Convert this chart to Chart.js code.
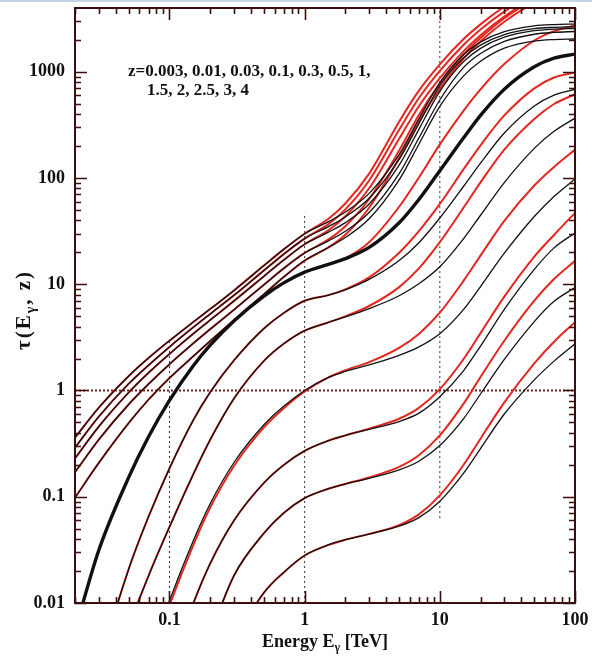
<!DOCTYPE html>
<html lang="en">
<head>
<meta charset="UTF-8">
<title>Optical depth vs energy</title>
<script src="https://cdn.jsdelivr.net/npm/chart.js@4"></script>
<style>
  html, body { margin: 0; padding: 0; background: #fff; }
  .wrap { position: relative; width: 592px; height: 657px; }
  .edge { position: absolute; left: 0; top: 0; width: 592px; height: 2px; background: #c3d4e6; }
  canvas { display: block; }
</style>
</head>
<body>
<div class="wrap">
  <canvas id="tau" width="592" height="657"></canvas>
  <div class="edge"></div>
</div>
<script>
// energy grid in TeV, shared by all curves
const energy = [0.02, 0.03, 0.05, 0.07, 0.1, 0.15, 0.2, 0.3, 0.5, 0.7, 1, 1.5, 2, 3, 5, 7, 10, 15, 20, 30, 50, 70, 100];

const redshifts = ['0.003', '0.01', '0.03', '0.1', '0.3', '0.5', '1', '1.5', '2', '2.5', '3', '4'];

// optical depth: black = one EBL model, red = the other
const black_z0003 = [1e-7, 5e-7, 3e-6, 1e-5, 1e-4, 5e-4, 0.0014, 0.0043, 0.0125, 0.0194, 0.028, 0.0352, 0.0394, 0.0446, 0.0528, 0.0636, 0.0908, 0.167, 0.284, 0.601, 1.26, 1.89, 2.75];
const red_z0003   = [1e-7, 5e-7, 3e-6, 1e-5, 1e-4, 5e-4, 0.0014, 0.0043, 0.0125, 0.0194, 0.028, 0.0352, 0.0394, 0.0447, 0.054, 0.0682, 0.103, 0.2, 0.352, 0.774, 1.8, 2.88, 4.4];

const black_z001 = [3e-7, 1.6e-6, 1.6e-5, 6e-5, 3e-4, 0.00166, 0.00494, 0.0181, 0.0454, 0.0703, 0.097, 0.119, 0.132, 0.149, 0.179, 0.216, 0.303, 0.544, 0.927, 1.96, 4.45, 6.9, 9.3];
const red_z001   = [3e-7, 1.6e-6, 1.6e-5, 6e-5, 3e-4, 0.00166, 0.00494, 0.0181, 0.0454, 0.0703, 0.097, 0.119, 0.132, 0.152, 0.191, 0.246, 0.378, 0.752, 1.34, 2.94, 7.0, 11.2, 16.6];

const black_z003 = [5e-6, 2e-5, 1.6e-4, 6e-4, 0.0023, 0.0099, 0.0235, 0.0597, 0.135, 0.199, 0.27, 0.337, 0.378, 0.43, 0.51, 0.612, 0.875, 1.54, 2.62, 5.8, 13.8, 22, 30.4];
const red_z003   = [5e-6, 2e-5, 1.6e-4, 6e-4, 0.0023, 0.0099, 0.0235, 0.0597, 0.135, 0.199, 0.27, 0.337, 0.378, 0.4375, 0.542, 0.686, 1.03, 1.98, 3.47, 7.64, 18.2, 29.1, 47];

const black_z01 = [2.5e-5, 1e-4, 7.6e-4, 0.0029, 0.0105, 0.0386, 0.086, 0.21, 0.476, 0.71, 1.0, 1.33, 1.51, 1.74, 2.14, 2.57, 3.42, 5.8, 9.5, 19.6, 43.4, 67, 98];
const red_z01   = [2.3e-5, 9e-5, 6.8e-4, 0.0026, 0.0095, 0.035, 0.079, 0.195, 0.45, 0.68, 0.98, 1.33, 1.55, 1.85, 2.52, 3.41, 5.4, 10.8, 18.6, 39.5, 85, 127, 185];

const black_z03 = [1e-4, 6e-4, 0.0058, 0.018, 0.052, 0.163, 0.344, 0.84, 1.9, 2.75, 3.66, 4.38, 4.92, 5.9, 7.8, 10.1, 14.6, 26.9, 44.6, 90.6, 190, 275, 366];
const red_z03   = [1e-4, 6e-4, 0.0058, 0.018, 0.052, 0.163, 0.344, 0.84, 1.9, 2.75, 3.66, 4.38, 4.99, 6.24, 9.4, 14.1, 24.9, 52.7, 91, 185, 360, 497, 615];

const black_z05 = [3.5e-4, 0.0025, 0.021, 0.065, 0.185, 0.526, 0.964, 1.92, 3.83, 5.36, 7.0, 7.9, 8.87, 11.1, 16.7, 24.6, 42, 83.6, 138, 265, 476, 603, 682];
const red_z05   = [3.5e-4, 0.0025, 0.021, 0.065, 0.185, 0.526, 0.964, 1.92, 3.83, 5.36, 7.0, 7.9, 8.95, 11.6, 19.8, 31.6, 57, 121, 203, 388, 698, 883, 984];

const black_z1 = [0.0055, 0.0314, 0.153, 0.367, 0.806, 1.71, 2.67, 4.52, 7.73, 10.3, 13.0, 15.4, 17.4, 22.2, 37.9, 62.8, 117, 239, 389, 686, 1114, 1340, 1466];
const red_z1   = [0.0055, 0.0314, 0.153, 0.367, 0.806, 1.71, 2.67, 4.52, 7.73, 10.3, 13.0, 15.4, 17.6, 24.9, 53.6, 101, 207, 431, 683, 1180, 1968, 2410, 2730];

const black_z15 = [0.098, 0.208, 0.495, 0.82, 1.31, 2.1, 2.92, 4.6, 8.07, 11.7, 16.7, 22.2, 27.5, 41.3, 96, 208, 473, 914, 1253, 1665, 1941, 2009, 2032];
const red_z15   = [0.098, 0.208, 0.495, 0.82, 1.31, 2.1, 2.92, 4.6, 8.07, 11.7, 16.7, 22.2, 29.2, 52.5, 154, 338, 690, 1330, 1933, 2958, 4457, 5360, 6070];

const black_z2 = [0.17, 0.345, 0.743, 1.15, 1.77, 2.78, 3.78, 5.76, 9.9, 14.1, 19.7, 25.6, 31.5, 47.3, 110, 238, 542, 1098, 1486, 1933, 2254, 2348, 2393];
const red_z2   = [0.17, 0.345, 0.743, 1.15, 1.77, 2.78, 3.78, 5.76, 9.9, 14.1, 19.7, 26.4, 35.2, 63.4, 181, 392, 773, 1452, 2080, 3184, 4800, 5770, 6530];

const black_z25 = [0.23, 0.458, 0.96, 1.47, 2.21, 3.42, 4.6, 6.97, 11.9, 16.9, 23.8, 30.9, 38, 57, 132, 287, 653, 1244, 1660, 2117, 2432, 2517, 2553];
const red_z25   = [0.23, 0.458, 0.96, 1.47, 2.21, 3.42, 4.6, 6.97, 11.9, 16.9, 23.8, 32.2, 43.6, 80, 234, 474, 870, 1563, 2208, 3311, 4932, 5875, 6590];

const black_z3 = [0.29, 0.567, 1.16, 1.73, 2.57, 3.93, 5.25, 7.87, 13.5, 19.2, 26.9, 34.9, 43, 64.4, 150, 324, 738, 1355, 1782, 2240, 2545, 2617, 2650];
const red_z3   = [0.29, 0.567, 1.16, 1.73, 2.57, 3.93, 5.25, 7.87, 13.5, 19.2, 26.9, 36.8, 50.6, 94.8, 284, 566, 1020, 1795, 2500, 3673, 5400, 6380, 7100];

const black_z4 = [0.36, 0.689, 1.37, 2.02, 2.94, 4.42, 5.84, 8.75, 15, 21.3, 29.9, 38.8, 47.8, 71.6, 166, 360, 791, 1450, 1900, 2380, 2700, 2780, 2810];
const red_z4   = [0.36, 0.689, 1.37, 2.02, 2.94, 4.42, 5.84, 8.75, 15, 21.3, 29.9, 41.3, 57.5, 110, 339, 664, 1175, 2032, 2790, 4100, 6030, 7130, 7940];

const blackSeries = [black_z0003, black_z001, black_z003, black_z01, black_z03, black_z05, black_z1, black_z15, black_z2, black_z25, black_z3, black_z4];
const redSeries   = [red_z0003, red_z001, red_z003, red_z01, red_z03, red_z05, red_z1, red_z15, red_z2, red_z25, red_z3, red_z4];

// dotted guide lines (endpoints in data units)
const guideE01 = [{ x: 0.1, y: 0.01 }, { x: 0.1, y: 3.0 }];
const guideE1  = [{ x: 1, y: 0.01 }, { x: 1, y: 47 }];
const guideE10 = [{ x: 10, y: 0.063 }, { x: 10, y: 3980 }];
const guideTau1 = [{ x: 0.02, y: 1 }, { x: 100, y: 1 }];

const xTickValues = [0.1, 1, 10, 100];
const xTickLabels = ['0.1', '1', '10', '100'];
const yTickValues = [0.01, 0.1, 1, 10, 100, 1000];
const yTickLabels = ['0.01', '0.1', '1', '10', '100', '1000'];

const SERIF = '"Liberation Serif", "DejaVu Serif", serif';
const AXIS = '#3a0e0e';

function toPoints(arr) {
    return energy.map((e, i) => ({ x: e, y: arr[i] }));
}

const datasets = [];
blackSeries.forEach((arr, i) => {
    datasets.push({
        label: 'z=' + redshifts[i] + ' (black)',
        data: toPoints(arr),
        borderColor: '#111111',
        borderWidth: redshifts[i] === '1' ? 3.4 : 1.3,
        pointRadius: 0,
        cubicInterpolationMode: 'monotone'
    });
});
redSeries.forEach((arr, i) => {
    datasets.push({
        label: 'z=' + redshifts[i] + ' (red)',
        data: toPoints(arr),
        borderColor: '#e3261f',
        borderWidth: 2,
        pointRadius: 0,
        cubicInterpolationMode: 'monotone'
    });
});
[guideE01, guideE1, guideE10].forEach((g) => {
    datasets.push({ data: g, borderColor: '#333333', borderWidth: 1, borderDash: [2, 3], pointRadius: 0 });
});
datasets.push({ data: guideTau1, borderColor: '#6e2020', borderWidth: 2, borderDash: [2, 2], pointRadius: 0 });

// frame, inward ticks, axis titles and the redshift note
const framePlugin = {
    id: 'frame',
    afterDraw(chart) {
        const { ctx, chartArea: a, scales: { x, y } } = chart;
        ctx.save();
        ctx.strokeStyle = AXIS;
        ctx.lineWidth = 2;
        ctx.strokeRect(a.left, a.top, a.right - a.left, a.bottom - a.top);

        ctx.lineWidth = 1.6;
        ctx.beginPath();
        for (let d = -2; d <= 3; d++) {
            for (let m = 1; m <= 9; m++) {
                const v = m * Math.pow(10, d);
                if (v < y.min || v > y.max) continue;
                const p = Math.round(y.getPixelForValue(v)) + 0.5;
                const len = m === 1 ? 12 : 6;
                ctx.moveTo(a.left, p); ctx.lineTo(a.left + len, p);
                ctx.moveTo(a.right, p); ctx.lineTo(a.right - len, p);
            }
        }
        for (let d = -2; d <= 2; d++) {
            for (let m = 1; m <= 9; m++) {
                const v = m * Math.pow(10, d);
                if (v < x.min || v > x.max) continue;
                const p = Math.round(x.getPixelForValue(v)) + 0.5;
                const len = m === 1 ? 12 : 6;
                ctx.moveTo(p, a.bottom); ctx.lineTo(p, a.bottom - len);
                ctx.moveTo(p, a.top); ctx.lineTo(p, a.top + len);
            }
        }
        ctx.stroke();

        ctx.fillStyle = '#111';
        ctx.textBaseline = 'alphabetic';

        // x title: Energy E_gamma [TeV]
        const big = 'bold 18px ' + SERIF, small = 'bold 12px ' + SERIF;
        ctx.font = big;
        const w1 = ctx.measureText('Energy E').width;
        const w3 = ctx.measureText(' [TeV]').width;
        ctx.font = small;
        const w2 = ctx.measureText('γ').width;
        let tx = (a.left + a.right) / 2 - (w1 + w2 + w3) / 2;
        const ty = 647;
        ctx.font = big; ctx.fillText('Energy E', tx, ty); tx += w1;
        ctx.font = small; ctx.fillText('γ', tx, ty + 4); tx += w2;
        ctx.font = big; ctx.fillText(' [TeV]', tx, ty);

        // y title: tau(E_gamma, z)
        ctx.save();
        ctx.translate(30, 310);
        ctx.rotate(-Math.PI / 2);
        ctx.letterSpacing = '2px';
        const yb = 'bold 21px ' + SERIF, ys = 'bold 14px ' + SERIF;
        ctx.font = yb;
        const u1 = ctx.measureText('τ(E').width;
        const u3 = ctx.measureText(', z)').width;
        ctx.font = ys;
        const u2 = ctx.measureText('γ').width;
        let ux = -(u1 + u2 + u3) / 2;
        ctx.font = yb; ctx.fillText('τ(E', ux, 0); ux += u1;
        ctx.font = ys; ctx.fillText('γ', ux, 5); ux += u2;
        ctx.font = yb; ctx.fillText(', z)', ux, 0);
        ctx.restore();

        // redshift list
        ctx.font = 'bold 17px ' + SERIF;
        ctx.fillText('z=0.003, 0.01, 0.03, 0.1, 0.3, 0.5, 1,', 128, 76);
        ctx.fillText('1.5, 2, 2.5, 3, 4', 147, 95);
        ctx.restore();
    }
};

new Chart(document.getElementById('tau'), {
    type: 'line',
    data: { datasets: datasets },
    options: {
        responsive: false,
        animation: false,
        events: [],
        layout: { padding: { top: 8, right: 17, bottom: 0, left: 0 } },
        plugins: { legend: { display: false }, tooltip: { enabled: false } },
        scales: {
            x: {
                type: 'logarithmic',
                min: 0.02,
                max: 100,
                afterFit: (s) => { s.height = 54; s.paddingLeft = 0; s.paddingRight = 0; },
                afterBuildTicks: (s) => { s.ticks = xTickValues.map((v) => ({ value: v })); },
                grid: { display: false, drawTicks: false },
                border: { display: false },
                ticks: {
                    padding: 7,
                    maxRotation: 0,
                    autoSkip: false,
                    color: '#111',
                    font: { family: SERIF, weight: 'bold', size: 18 },
                    callback: (v, i) => xTickLabels[i]
                }
            },
            y: {
                type: 'logarithmic',
                min: 0.01,
                max: 3980,
                afterFit: (s) => { s.width = 75; s.paddingTop = 0; s.paddingBottom = 0; },
                afterBuildTicks: (s) => { s.ticks = yTickValues.map((v) => ({ value: v })); },
                grid: { display: false, drawTicks: false },
                border: { display: false },
                ticks: {
                    padding: 10,
                    autoSkip: false,
                    color: '#111',
                    font: { family: SERIF, weight: 'bold', size: 18 },
                    callback: (v, i) => yTickLabels[i]
                }
            }
        }
    },
    plugins: [framePlugin]
});
</script>
</body>
</html>
